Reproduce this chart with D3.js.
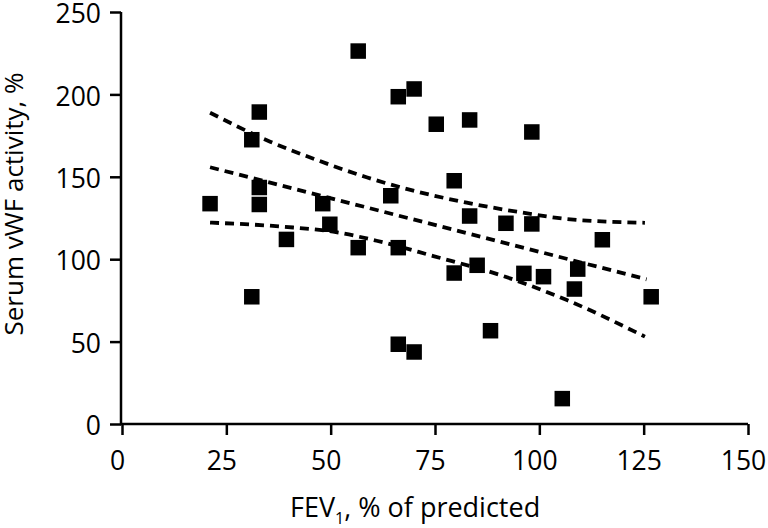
<!DOCTYPE html>
<html>
<head>
<meta charset="utf-8">
<script src="https://cdn.jsdelivr.net/npm/d3@7"></script>
<style>
  body { margin: 0; background: #fff; }
  svg { display: block; font-family: "Open Sans", sans-serif; }
</style>
</head>
<body>
<div id="chart"></div>
<script>
// FEV1 (% predicted) vs serum vWF activity (%)
const fev1 = [21.1, 31.1, 32.9, 32.9, 32.9, 31.1, 39.4, 48.1, 49.8, 56.6, 56.6, 64.4,
  66.2, 70, 66.2, 66.2, 70, 75.3, 83.3, 79.6, 83.3, 79.6, 85.1, 88.3, 92, 98.2,
  98.2, 96.3, 101, 105.5, 109.2, 108.4, 115.1, 126.8];
const vwf = [133.7, 172.5, 189.3, 143.5, 133.2, 77.2, 112, 133.7, 121.2, 226.3, 107, 138.5,
  198.6, 203.3, 107, 48.4, 43.7, 181.9, 184.5, 147.6, 126.2, 91.6, 96.3, 56.6, 121.8, 177.2,
  121.4, 91.4, 89.4, 15.4, 94, 81.9, 111.8, 77.2];

// regression line and 95% band
const fitX = [21.1, 125.7];
const fitY = [155.8, 87.8];
const upperX = [21.1, 35.5, 46.7, 58.6, 69.8, 82.6, 94.6, 106.6, 125.3];
const upperY = [188.9, 171.3, 160.2, 149.7, 141.6, 134.3, 128.8, 124.4, 122.1];
const lowerX = [21.1, 38.7, 50.6, 61, 74.6, 90.6, 106.6, 125.3];
const lowerY = [122.2, 119.7, 116.7, 111.2, 101.9, 90.4, 75.2, 53];

const xTicks = [0, 25, 50, 75, 100, 125, 150];
const yTicks = [0, 50, 100, 150, 200, 250];

const W = 768, H = 528;
const svg = d3.select('#chart').append('svg')
  .attr('width', W).attr('height', H);

const x = d3.scaleLinear().domain([0, 150]).range([122, 748]);
const y = d3.scaleLinear().domain([0, 250]).range([424, 12]);

// axes
const xAxis = svg.append('g')
  .attr('transform', `translate(0,${y(0)})`)
  .call(d3.axisBottom(x).tickValues(xTicks).tickSize(11).tickPadding(16).tickSizeOuter(0));
const yAxis = svg.append('g')
  .attr('transform', `translate(${x(0) - 1},0)`)
  .call(d3.axisLeft(y).tickValues(yTicks).tickSize(11).tickPadding(9).tickSizeOuter(0));

[xAxis, yAxis].forEach(a => {
  a.select('.domain').attr('stroke', '#000').attr('stroke-width', 2.5);
  a.selectAll('.tick line').attr('stroke', '#000').attr('stroke-width', 2.5);
  a.selectAll('.tick text').attr('fill', '#000').attr('font-size', 26.5)
    .attr('font-family', '"Open Sans", sans-serif');
});
xAxis.selectAll('.tick text').attr('dx', -5);
yAxis.selectAll('.tick text').attr('dy', '0.4em');
xAxis.select('.domain').attr('d', `M${x(0) - 2},0H${x(150)}`);
yAxis.select('.domain').attr('d', `M0,${y(0)}V${y(250)}`);

// axis titles
const xt = svg.append('text')
  .attr('x', 290).attr('y', 517)
  .attr('font-size', 27).attr('fill', '#000');
xt.append('tspan').text('FEV');
xt.append('tspan').text('1').attr('font-size', 16).attr('dy', 7);
xt.append('tspan').text(', % of predicted').attr('dy', -7);

svg.append('text')
  .attr('transform', `translate(23,204) rotate(-90)`)
  .attr('text-anchor', 'middle')
  .attr('font-size', 26).attr('fill', '#000')
  .text('Serum vWF activity, %');

// dashed fit + band
const line = d3.line().x(d => x(d[0])).y(d => y(d[1])).curve(d3.curveMonotoneX);
const bands = [
  d3.zip(fitX, fitY),
  d3.zip(upperX, upperY),
  d3.zip(lowerX, lowerY)
];
svg.selectAll('.band')
  .data(bands)
  .enter()
  .append('path')
  .attr('class', 'band')
  .attr('d', d => line(d))
  .attr('fill', 'none')
  .attr('stroke', '#000')
  .attr('stroke-width', 3.8)
  .attr('stroke-dasharray', '9,6');

// points
const s = 15.5;
svg.selectAll('.pt')
  .data(d3.zip(fev1, vwf))
  .enter()
  .append('rect')
  .attr('class', 'pt')
  .attr('x', d => x(d[0]) - s / 2)
  .attr('y', d => y(d[1]) - s / 2)
  .attr('width', s)
  .attr('height', s)
  .attr('fill', '#000');
</script>
</body>
</html>
